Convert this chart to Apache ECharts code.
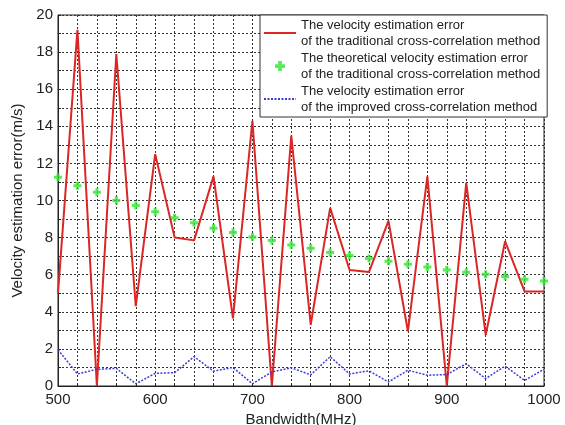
<!DOCTYPE html>
<html>
<head>
<meta charset="utf-8">
<script src="https://cdn.jsdelivr.net/npm/echarts@6/dist/echarts.min.js"></script>
<style>
html,body{margin:0;padding:0;background:#fff;}
#chart{width:565px;height:425px;}
</style>
</head>
<body>
<div id="chart"></div>
<script>
// Bandwidth (MHz)
var bandwidth = [500,520,540,560,580,600,620,640,660,680,700,720,740,760,780,800,820,840,860,880,900,920,940,960,980,1000];
// Velocity estimation error of the traditional cross-correlation method (m/s)
var traditionalError = [5.0,19.2,0,17.9,4.3,12.5,8.0,7.85,11.3,3.65,14.3,0,13.5,3.3,9.6,6.25,6.15,8.9,2.95,11.3,0,10.95,2.75,7.8,5.1,5.1];
// Theoretical velocity estimation error of the traditional method (m/s)
var theoreticalError = [11.25,10.8,10.45,10.0,9.73,9.39,9.07,8.8,8.5,8.28,8.03,7.85,7.6,7.42,7.2,7.03,6.88,6.72,6.56,6.42,6.25,6.13,6.02,5.9,5.75,5.66];
// Velocity estimation error of the improved cross-correlation method (m/s)
var improvedError = [1.95,0.65,0.9,0.95,0.12,0.68,0.72,1.58,0.8,1.0,0.12,0.76,0.98,0.6,1.58,0.65,0.82,0.22,0.85,0.58,0.62,1.2,0.4,1.07,0.3,0.9];

var seriesNames = [
  'The velocity estimation error\nof the traditional cross-correlation method',
  'The theoretical velocity estimation error\nof the traditional cross-correlation method',
  'The velocity estimation error\nof the improved cross-correlation method'
];

function pairs(ys){ return bandwidth.map(function(x,i){ return [x, ys[i]]; }); }

var plusPath = 'path://M2.5,0h3v2.5h2.5v3h-2.5v2.5h-3v-2.5h-2.5v-3h2.5z';
var fontFam = '"Liberation Sans", Arial, sans-serif';
var red = '#dc2626', green = '#2ee62e', blue = '#3a3ad8';
var hiddenSymbol = {color: 'rgba(0,0,0,0)', borderColor: 'rgba(0,0,0,0)', borderWidth: 0};

var chart = echarts.init(document.getElementById('chart'), null, {renderer:'canvas'});
chart.setOption({
  backgroundColor: '#fff',
  animation: false,
  grid: {left: 58, right: 21, top: 15, bottom: 39, containLabel: false, outerBoundsMode: 'none',
    show: true, borderColor: '#222', borderWidth: 1, backgroundColor: 'transparent'},
  xAxis: {
    type: 'value', min: 500, max: 1000, interval: 20,
    name: 'Bandwidth(MHz)', nameLocation: 'middle', nameGap: 19,
    nameTextStyle: {fontSize: 15, color: '#222', fontFamily: fontFam},
    axisLine: {show: true, lineStyle: {color: '#222'}},
    axisTick: {show: true, inside: true, length: 3, lineStyle: {color: '#222'}},
    axisLabel: {fontSize: 15, color: '#222', fontFamily: fontFam, margin: 6,
      formatter: function(v){ return v % 100 === 0 ? String(v) : ''; }},
    splitLine: {show: true, lineStyle: {color: '#333', type: [2,2], width: 1}}
  },
  yAxis: {
    type: 'value', min: 0, max: 20, interval: 1,
    name: 'Velocity estimation error(m/s)', nameLocation: 'middle', nameGap: 32,
    nameTextStyle: {fontSize: 15, color: '#222', fontFamily: fontFam},
    axisLine: {show: true, lineStyle: {color: '#222'}},
    axisTick: {show: true, inside: true, length: 3, lineStyle: {color: '#222'}},
    axisLabel: {fontSize: 15, color: '#222', fontFamily: fontFam, margin: 5,
      formatter: function(v){ return v % 2 === 0 ? String(v) : ''; }},
    splitLine: {show: true, lineStyle: {color: '#333', type: [2,2], width: 1}}
  },
  legend: {
    orient: 'vertical', left: 260, top: 15,
    backgroundColor: '#fff', borderColor: '#333', borderWidth: 1,
    padding: [2, 7, 2, 3], itemGap: 1, itemWidth: 32, itemHeight: 10,
    textStyle: {fontSize: 13, lineHeight: 16, color: '#222', fontFamily: fontFam},
    data: [
      {name: seriesNames[0], itemStyle: hiddenSymbol},
      {name: seriesNames[1], icon: plusPath, itemStyle: {color: green}},
      {name: seriesNames[2], itemStyle: hiddenSymbol}
    ]
  },
  series: [
    {
      name: seriesNames[0], type: 'line', data: pairs(traditionalError),
      symbol: 'none', lineStyle: {color: red, width: 2}, itemStyle: {color: red}, z: 3
    },
    {
      name: seriesNames[1], type: 'scatter', data: pairs(theoreticalError),
      symbol: plusPath, symbolSize: 8, itemStyle: {color: green}, z: 4
    },
    {
      name: seriesNames[2], type: 'line', data: pairs(improvedError),
      symbol: 'none', lineStyle: {color: blue, width: 1.5, type: [2,1.5]}, itemStyle: {color: blue}, z: 3
    }
  ]
});
</script>
</body>
</html>
